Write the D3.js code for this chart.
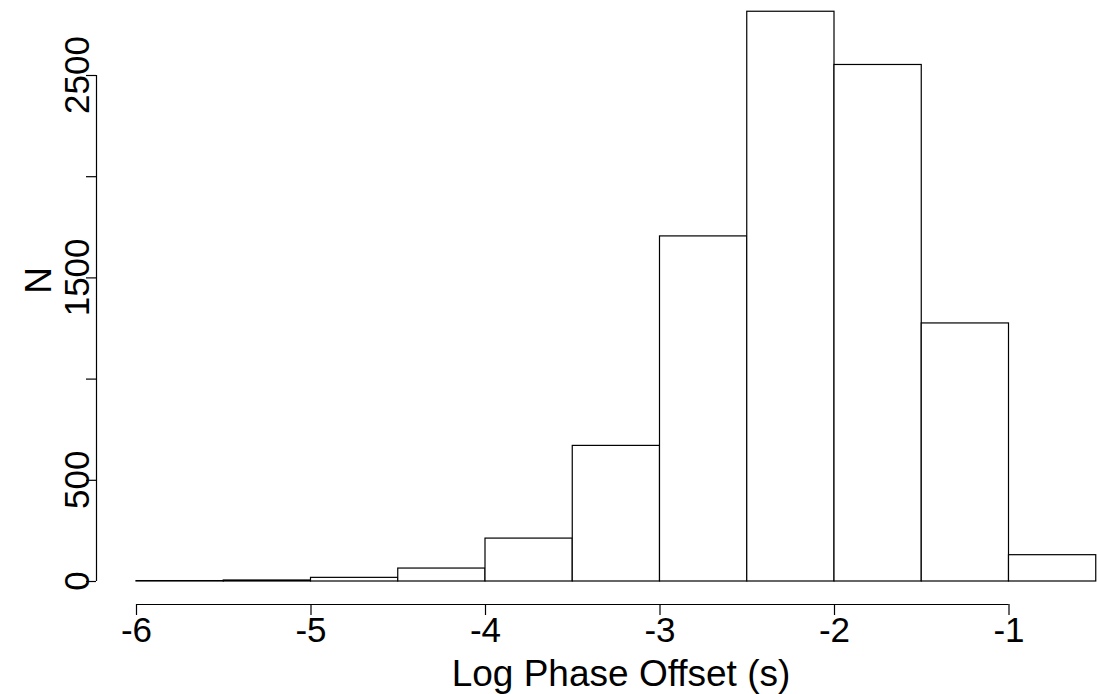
<!DOCTYPE html>
<html lang="en">
<head>
  <meta charset="utf-8" />
  <title>Log Phase Offset histogram</title>
  <style>
    body { margin: 0; background: white; }
    svg text { font-family: "Liberation Sans", Arial, sans-serif; fill: black; }
  </style>
  <script src="https://d3js.org/d3.v7.min.js"></script>
</head>
<body>
<script>

// histogram bins (left edges), width 0.5
const binStarts = [-6, -5.5, -5, -4.5, -4, -3.5, -3, -2.5, -2, -1.5, -1];
const counts    = [2, 5, 18, 64, 212, 670, 1705, 2815, 2552, 1275, 130];
const binWidth  = 0.5;

const xTicks = [-6, -5, -4, -3, -2, -1];
const yTicks = [0, 500, 1000, 1500, 2000, 2500];
const yLabels = [0, 500, 1500, 2500]; // R drops the ones that would overlap

const W = 1097, H = 694;

const svg = d3.select("body")
  .append("svg")
    .attr("width", W)
    .attr("height", H);

// scales
const x = d3.scaleLinear().domain([-6, -0.5]).range([136, 1095.75]);
const y = d3.scaleLinear().domain([0, 2500]).range([581, 75]);

const bins = binStarts.map((b, i) => ({x0: b, x1: b + binWidth, n: counts[i]}));

// bars
svg.selectAll("rect.bar")
  .data(bins)
  .join("rect")
    .attr("class", "bar")
    .attr("x", d => x(d.x0))
    .attr("y", d => y(d.n))
    .attr("width", d => x(d.x1) - x(d.x0))
    .attr("height", d => y(0) - y(d.n))
    .attr("fill", "white")
    .attr("stroke", "black")
    .attr("stroke-width", 1.2);

// x axis (R style, offset below the bars)
const xAxis = svg.append("g")
  .attr("transform", "translate(0,604)")
  .call(d3.axisBottom(x).tickValues(xTicks).tickSize(11).tickSizeOuter(0));
xAxis.select(".domain")
  .attr("d", `M${x(-6)},0.5H${x(-1)}`)
  .attr("stroke-width", 1.2);
xAxis.selectAll(".tick line").attr("stroke-width", 1.2);
xAxis.selectAll(".tick text")
  .attr("y", 38)
  .attr("dy", null)
  .style("font-size", "35px")
  .text(d => String(d)); // plain hyphen minus like R

// y axis
const yAxis = svg.append("g")
  .attr("transform", "translate(96,0)")
  .call(d3.axisLeft(y).tickValues(yTicks).tickSize(10).tickSizeOuter(0).tickFormat(""));
yAxis.select(".domain")
  .attr("d", `M0.5,${y(0)}V${y(2500)}`)
  .attr("stroke-width", 1.2);
yAxis.selectAll(".tick line").attr("stroke-width", 1.2);

svg.selectAll("text.ylab")
  .data(yLabels)
  .join("text")
    .attr("class", "ylab")
    .attr("transform", d => `translate(89,${y(d)}) rotate(-90)`)
    .attr("text-anchor", "middle")
    .style("font-size", "35px")
    .text(d => d);

// axis titles
svg.append("text")
  .attr("x", 621)
  .attr("y", 686)
  .attr("text-anchor", "middle")
  .style("font-size", "37px")
  .text("Log Phase Offset (s)");

svg.append("text")
  .attr("transform", `translate(51,${y(1500) + 3}) rotate(-90)`)
  .attr("text-anchor", "middle")
  .style("font-size", "37px")
  .text("N");

</script>
</body>
</html>
